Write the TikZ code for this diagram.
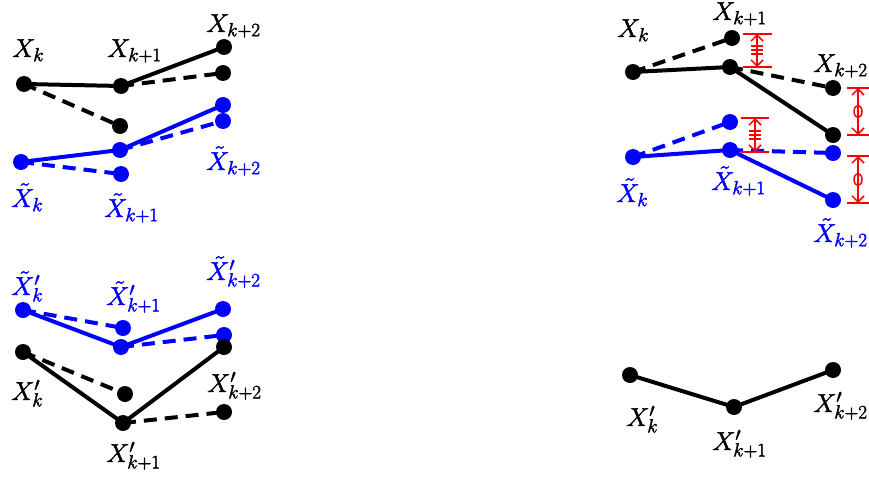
\RequirePackage{fix-cm}
\documentclass[tikz,border=0pt]{standalone}
\usetikzlibrary{arrows.meta}
\DeclareMathSizes{26}{26}{19}{14}
\newcommand\thk[1]{\special{pdf:literal direct 2 Tr 0.45 w}#1\special{pdf:literal direct 0 Tr}}
\begin{document}
\begin{tikzpicture}[x=1pt,y=-1pt,
  dotk/.style={circle,fill=black,inner sep=0pt,minimum size=16pt},
  dotb/.style={circle,fill=blue,inner sep=0pt,minimum size=16pt},
  sol/.style={line width=4pt},
  dsh/.style={line width=4pt,dash pattern=on 13pt off 8pt},
  lab/.style={font=\fontsize{26}{30}\selectfont,inner sep=0pt,anchor=base west},
  rl/.style={red,line width=1.5pt},
  rarr/.style={red,line width=1.5pt,{Straight Barb[length=6pt,width=12pt]}-{Straight Barb[length=6pt,width=12pt]}}]
\useasboundingbox (0,0) rectangle (869,479);

% ---------- left top ----------
\node[dotk] (a1) at (24,84) {};
\node[dotk] (a2) at (121,86) {};
\node[dotk] (a3) at (224,47) {};
\node[dotk] (a4) at (223,73) {};
\node[dotk] (a5) at (120,126) {};
\node[dotb] (b1) at (21,162) {};
\node[dotb] (b2) at (120,150) {};
\node[dotb] (b3) at (223,105) {};
\node[dotb] (b4) at (223,121) {};
\node[dotb] (b5) at (121,174) {};
\draw[sol] (a1.center) -- (a2.center) -- (a3.center);
\draw[dsh] (a1.center) -- (a5.center);
\draw[dsh] (a2.center) -- (a4.center);
\draw[sol,blue] (b1.center) -- (b2.center) -- (b3.center);
\draw[dsh,blue] (b1.center) -- (b5.center);
\draw[dsh,blue] (b2.center) -- (b4.center);
\node[lab] (la1) at (12,57) {\thk{$X_k$}};
\node[lab] (la2) at (107,57) {\thk{$X_{k+1}$}};
\node[lab] (la3) at (206,32) {\thk{$X_{k+2}$}};
\node[lab,blue] (lb1) at (11,207) {\thk{$\tilde X_k$}};
\node[lab,blue] (lb2) at (104,217) {\thk{$\tilde X_{k+1}$}};
\node[lab,blue] (lb3) at (206,170) {\thk{$\tilde X_{k+2}$}};

% ---------- left bottom ----------
\node[dotb] (c1) at (23,310) {};
\node[dotb] (c2) at (121,347) {};
\node[dotb] (c3) at (223,309) {};
\node[dotb] (c4) at (123,328) {};
\node[dotb] (c5) at (224,335) {};
\node[dotk] (d1) at (23,352) {};
\node[dotk] (d2) at (123,423) {};
\node[dotk] (d3) at (224,347) {};
\node[dotk] (d4) at (125,394) {};
\node[dotk] (d5) at (224,412) {};
\draw[sol,blue] (c1.center) -- (c2.center) -- (c3.center);
\draw[dsh,blue] (c1.center) -- (c4.center);
\draw[dsh,blue] (c2.center) -- (c5.center);
\draw[sol] (d1.center) -- (d2.center) -- (d3.center);
\draw[dsh] (d1.center) -- (d4.center);
\draw[dsh] (d2.center) -- (d5.center);
\node[lab,blue] (lc1) at (11,295) {\thk{$\tilde X'_k$}};
\node[lab,blue] (lc2) at (106,305) {\thk{$\tilde X'_{k+1}$}};
\node[lab,blue] (lc3) at (206,280) {\thk{$\tilde X'_{k+2}$}};
\node[lab] (ld1) at (11,400) {\thk{$X'_k$}};
\node[lab] (ld2) at (106,462) {\thk{$X'_{k+1}$}};
\node[lab] (ld3) at (207,392) {\thk{$X'_{k+2}$}};

% ---------- right top ----------
\node[dotk] (e1) at (633,72) {};
\node[dotk] (e2) at (730,67) {};
\node[dotk] (e3) at (833,135) {};
\node[dotk] (e4) at (732,38) {};
\node[dotk] (e5) at (833,88) {};
\node[dotb] (f1) at (633,157) {};
\node[dotb] (f2) at (730,150) {};
\node[dotb] (f3) at (833,200) {};
\node[dotb] (f4) at (730,122) {};
\node[dotb] (f5) at (833,153) {};
\draw[sol] (e1.center) -- (e2.center) -- (e3.center);
\draw[dsh] (e1.center) -- (e4.center);
\draw[dsh] (e2.center) -- (e5.center);
\draw[sol,blue] (f1.center) -- (f2.center) -- (f3.center);
\draw[dsh,blue] (f1.center) -- (f4.center);
\draw[dsh,blue] (f2.center) -- (f5.center);
\node[lab] (le1) at (617,37) {\thk{$X_k$}};
\node[lab] (le2) at (712,20) {\thk{$X_{k+1}$}};
\node[lab] (le3) at (813,72) {\thk{$X_{k+2}$}};
\node[lab,blue] (lf1) at (616,202) {\thk{$\tilde X_k$}};
\node[lab,blue] (lf2) at (711,190) {\thk{$\tilde X_{k+1}$}};
\node[lab,blue] (lf3) at (813,242) {\thk{$\tilde X_{k+2}$}};

% red markers
\coordinate (m1t) at (757,34); \coordinate (m1b) at (757,67);
\draw[rl] (743,34) -- (772,34); \draw[rl] (743,67) -- (772,67);
\draw[rarr] (m1t) -- (m1b);
\foreach \yy in {46,50,54} \draw[rl] (751,\yy) -- (763,\yy);
\coordinate (m2t) at (755,118); \coordinate (m2b) at (755,152);
\draw[rl] (741,118) -- (769,118); \draw[rl] (741,152) -- (769,152);
\draw[rarr] (m2t) -- (m2b);
\foreach \yy in {131,135,139} \draw[rl] (749,\yy) -- (761,\yy);
\coordinate (m3t) at (858,88); \coordinate (m3b) at (858,135);
\draw[rl] (847,88) -- (869,88); \draw[rl] (847,135) -- (869,135);
\draw[rarr] (m3t) -- (m3b);
\draw[rl] (858,111.5) ellipse (4pt and 6pt);
\coordinate (m4t) at (858,156); \coordinate (m4b) at (858,203);
\draw[rl] (847,156) -- (869,156); \draw[rl] (847,203) -- (869,203);
\draw[rarr] (m4t) -- (m4b);
\draw[rl] (858,179.5) ellipse (4pt and 6pt);

% ---------- right bottom ----------
\node[dotk] (g1) at (630,375) {};
\node[dotk] (g2) at (734,407) {};
\node[dotk] (g3) at (833,370) {};
\draw[sol] (g1.center) -- (g2.center) -- (g3.center);
\node[lab] (lg1) at (626,426) {\thk{$X'_k$}};
\node[lab] (lg2) at (712,450) {\thk{$X'_{k+1}$}};
\node[lab] (lg3) at (813,412) {\thk{$X'_{k+2}$}};
\end{tikzpicture}
\end{document}
